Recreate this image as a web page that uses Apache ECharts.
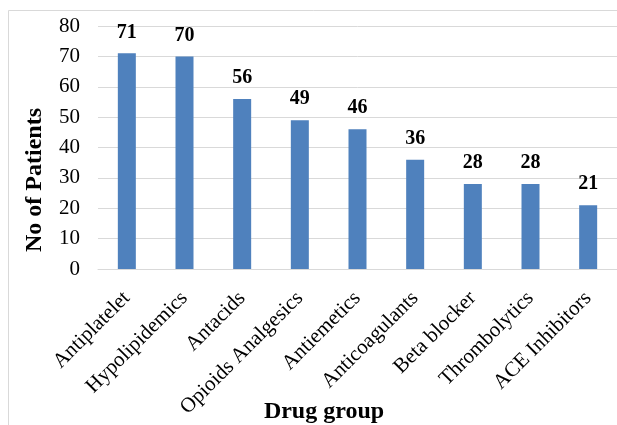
<!DOCTYPE html>
<html>
<head>
<meta charset="utf-8">
<script src="https://cdn.jsdelivr.net/npm/echarts@6/dist/echarts.min.js"></script>
<style>
  html, body { margin: 0; padding: 0; background: #fff; }
  #chart { width: 617px; height: 425px; }
</style>
</head>
<body>
<div id="chart"></div>
<script>
// Drug groups and the number of patients receiving each
const categories = ['Antiplatelet', 'Hypolipidemics', 'Antacids', 'Opioids Analgesics', 'Antiemetics', 'Anticoagulants', 'Beta blocker', 'Thrombolytics', 'ACE Inhibitors'];
const patients = [71, 70, 56, 49, 46, 36, 28, 28, 21];
const yTicks = [0, 10, 20, 30, 40, 50, 60, 70, 80];

const serif = '"Liberation Serif", "Times New Roman", serif';
const chart = echarts.init(document.getElementById('chart'), null, { renderer: 'canvas' });

chart.setOption({
  backgroundColor: '#ffffff',
  animation: false,
  grid: { left: 98, right: -1, top: 26, bottom: 156, containLabel: false },
  graphic: [
    { type: 'rect', shape: { x: 8.5, y: 10.5, width: 640, height: 440 },
      style: { fill: 'none', stroke: '#d9d9d9', lineWidth: 1 }, silent: true },
    { type: 'text', x: 35, y: 180, rotation: Math.PI / 2,
      style: { text: 'No of Patients', font: 'bold 24px ' + serif, fill: '#000',
               align: 'center', verticalAlign: 'middle' } },
    { type: 'text', x: 324, y: 412,
      style: { text: 'Drug group', font: 'bold 24px ' + serif, fill: '#000',
               align: 'center', verticalAlign: 'middle' } }
  ],
  xAxis: {
    type: 'category',
    data: categories,
    axisLine: { show: true, lineStyle: { color: '#d9d9d9', width: 1 } },
    axisTick: { show: false },
    axisLabel: { interval: 0, rotate: 45, margin: 26, color: '#000',
                 fontFamily: serif, fontSize: 21 }
  },
  yAxis: {
    type: 'value',
    min: yTicks[0],
    max: yTicks[yTicks.length - 1],
    interval: 10,
    axisLine: { show: false },
    axisTick: { show: false },
    splitLine: { lineStyle: { color: '#d9d9d9', width: 1 } },
    axisLabel: { margin: 18, color: '#000', fontFamily: serif, fontSize: 21 }
  },
  series: [{
    type: 'bar',
    data: patients,
    barWidth: 18,
    itemStyle: { color: '#4f81bd' },
    label: { show: true, position: 'top', distance: 11, color: '#000',
             fontFamily: serif, fontSize: 20, fontWeight: 'bold' }
  }]
});
</script>
</body>
</html>
